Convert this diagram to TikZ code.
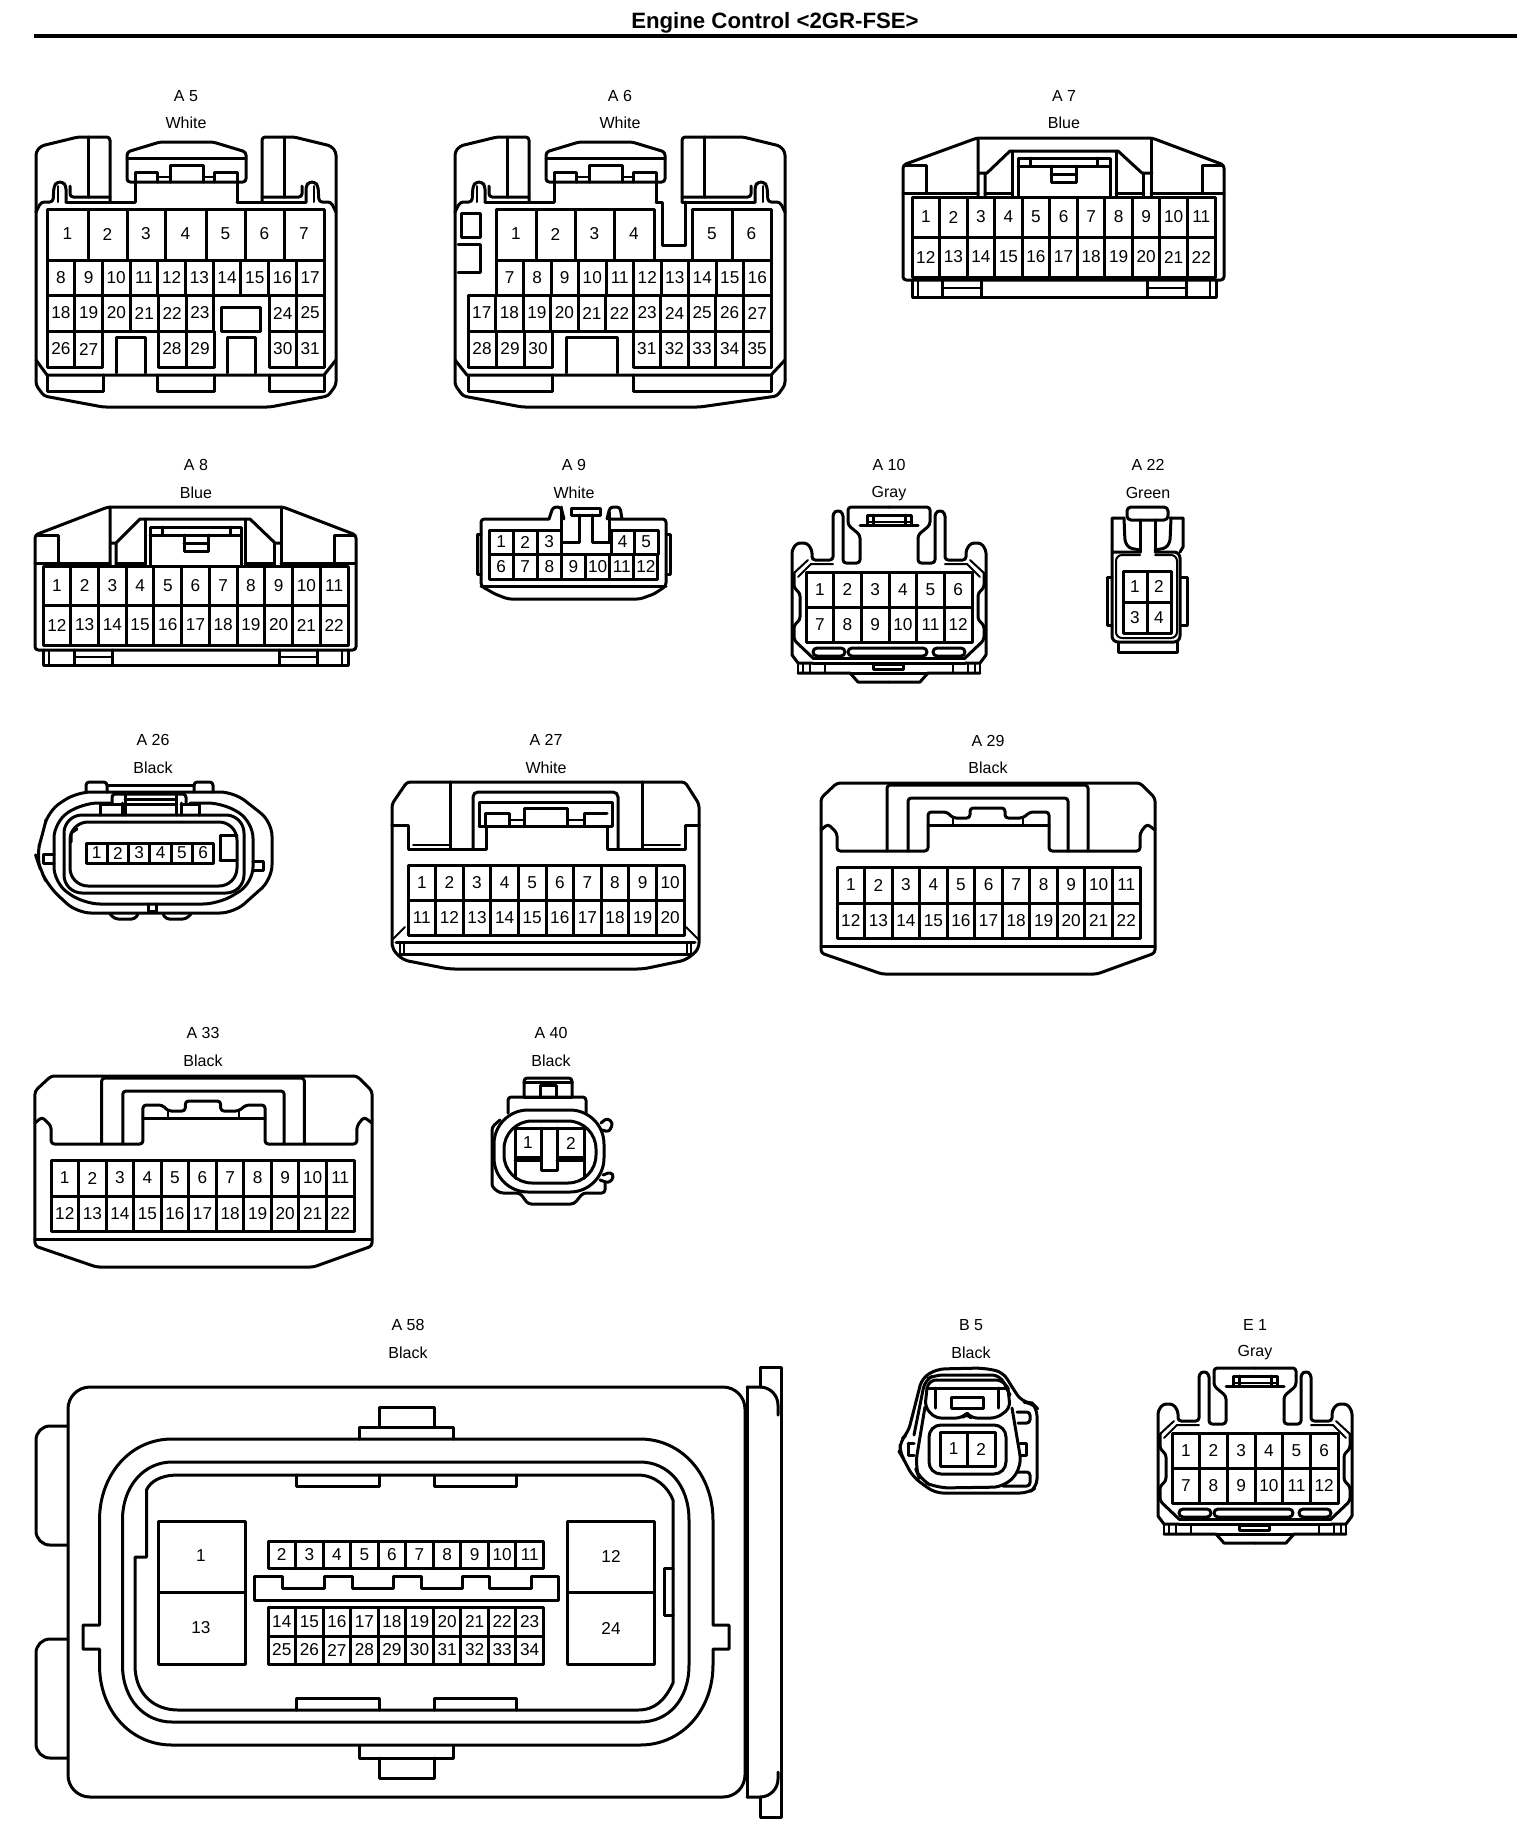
\documentclass[tikz,border=0pt]{standalone}
\usepackage{fontspec}
\setmainfont{Liberation Sans}
\tikzset{
  ln/.style={line width=1.5pt,line join=round,line cap=round},
  thn/.style={line width=1pt,line join=round,line cap=round},
  rc/.style={rounded corners=1.6pt},
  rcb/.style={rounded corners=4pt},
  pin/.style={font=\fontsize{8.6}{10}\selectfont,inner sep=0pt},
  lab/.style={font=\fontsize{8}{10}\selectfont,inner sep=0pt},
}
% row of numbered cells: x0, dx, y0, y1, first, last
\newcommand{\pinrow}[6]{%
  \foreach \n [evaluate=\n as \ca using {#1+(\n-#5)*#2},evaluate=\n as \cb using {#1+(\n-#5+1)*#2}] in {#5,...,#6}{%
    \draw[ln] (\ca,#3) rectangle (\cb,#4);
    \node[pin] (p\n) at ({(\ca+\cb)/2},{(#3+#4)/2}) {\n};
  }}
% white connector: side part (tab x, inner x)
\newcommand{\sidepart}[2]{%
  \draw[ln,rc] (36,212)--(36,152)--(41,146)--(78,137)--(#1,137)--(#1,202);
  \draw[ln] (#2,137)--(#2,197);
  \draw[ln,rc] (36,212)--(41,202)--(53,202)--(54,186)--(57,182)--(63,182)--(66,186)--(66,202);
  \draw[thn] (58,186)--(58,202);
  \draw[ln,rc] (70,186)--(70,197)--(#1,197);
  \draw[ln] (66,202)--(#1,202);
}
\newcommand{\wlatch}{%
  \draw[ln,rc] (127,182)--(127,152)--(160,142)--(213,142)--(246,152)--(246,182)--cycle;
  \draw[ln] (127,158)--(246,158);
  \draw[ln] (135,182)--(135,172)--(157,172)--(157,182);
  \draw[ln] (170,182)--(170,165)--(203,165)--(203,182);
  \draw[ln] (214,182)--(214,172)--(237,172)--(237,182);
  \draw[thn] (157,177)--(170,177) (203,177)--(214,177);
  \draw[ln] (135,182)--(135,202) (237,182)--(237,202);
  \draw[ln] (110,202)--(135,202);
}
% black connector A29 / A33
\newcommand{\blackconn}{%
  \draw[ln,rc] (821,828)--(821,798)--(837,783)--(1140,783)--(1155,798)--(1155,828);
  \draw[ln,rc] (821,828)--(821,953)--(882,974)--(1097,974)--(1155,953)--(1155,828);
  \draw[ln] (821,946)--(1155,946);
  \draw[ln,rc] (821,830)--(828,824)--(837,833)--(837,851)--(928,851)--(928,812)--(947,812)--(953,818)--(970,818)--(970,808)--(1005,808)--(1005,818)--(1023,818)--(1030,812)--(1049,812)--(1049,851)--(1140,851)--(1140,833)--(1147,824)--(1155,830);
  \draw[ln] (928,825)--(970,825) (970,825)--(1005,825) (1005,825)--(1049,825);
  \draw[thn] (953,818)--(953,825) (1023,818)--(1023,825);
  \draw[ln,rc] (887,851)--(887,785)--(1088,785)--(1088,851);
  \draw[ln,rc] (908,851)--(908,798)--(1068,798)--(1068,851);
}
\newcommand{\blackpins}{%
  \pinrow{837}{27.55}{867}{903}{1}{11}
  \pinrow{837}{27.55}{903}{938}{12}{22}
}
% gray connector A10 / E1
\newcommand{\grayhalf}{%
  \draw[ln,rc] (792,655)--(792,550)--(797,543)--(807,543)--(812,550)--(812,560)--(833,560)--(833,513)--(838,510)--(843,513)--(843,563)--(860,563)--(860,535)--(848,525)--(848,507)--(889,507);
  \draw[ln] (792,655)--(798,663)--(813,663);
  \draw[thn] (794,573)--(808,560) (798,577)--(811,564)--(833,564);
  \draw[ln,rc] (794,573)--(794,588)--(800,593)--(800,620)--(794,625)--(794,640)--(813,658);
  \draw[ln,rounded corners=2pt] (813,648) rectangle (845,656);
  \draw[thn] (798,663)--(798,673) (803,663)--(803,673) (810,663)--(810,673) (825,663)--(825,673);
  \draw[ln] (813,658)--(889,658);
  \draw[ln] (798,673)--(850,673)--(858,682)--(889,682);
  \draw[ln] (813,663)--(889,663);
  \draw[ln] (850,673)--(889,673);
  \draw[ln] (860,525)--(889,525);
  \draw[ln] (867,525)--(867,515)--(889,515);
  \draw[ln] (873,515)--(873,525);
}
\newcommand{\grayconn}{%
  \grayhalf
  \begin{scope}[shift={(1778,0)},xscale=-1]\grayhalf\end{scope}
  \draw[ln,rounded corners=2pt] (848,648) rectangle (927,656);
  \draw[ln] (873,664) rectangle (903,669);
  \draw[thn] (867,522)--(911,522);
  \pinrow{806}{27.67}{572}{607}{1}{6}
  \pinrow{806}{27.67}{607}{642}{7}{12}
}
\begin{document}
\begin{tikzpicture}[x=0.5pt,y=-0.5pt]
\useasboundingbox (0,0) rectangle (1536,1832);
\node[font=\fontsize{11.1}{13}\selectfont\bfseries,inner sep=0pt] (title) at (775,23) {Engine Control <2GR-FSE>};
\coordinate (ruleL) at (34,36); \coordinate (ruleR) at (1517,36);
\draw[line width=2pt] (ruleL)--(ruleR);

% ---------- A5
\begin{scope}[name prefix=a5-]
\node[lab] (t1) at (186,96) {A 5}; \node[lab] (t2) at (186,123) {White};
\sidepart{110}{88}
\begin{scope}[shift={(372,0)},xscale=-1]\sidepart{110}{88}\end{scope}
\wlatch
\draw[ln] (237,202)--(262,202);
\draw[ln,rc] (36,212)--(36,385)--(44,396)--(103,407)--(270,407)--(328,396)--(336,385)--(336,212);
\draw[ln] (36,360)--(47,375)--(324,375)--(336,360);
\foreach \i/\xa/\xb/\ya in {1/47/88/0,2/88/127/0,3/127/165/0,4/165/206/0,5/206/245/0,6/245/284/0,7/284/324/0}{
  \draw[ln] (\xa,209) rectangle (\xb,260);
  \node[pin] (p\i) at ({(\xa+\xb)/2},234) {\i};
}
\pinrow{47}{27.7}{260}{295}{8}{17}
\pinrow{47}{27.8}{295}{331}{18}{23}
\pinrow{269}{27.5}{295}{331}{24}{25}
\pinrow{47}{27.8}{331}{367}{26}{27}
\pinrow{158}{28}{331}{367}{28}{29}
\pinrow{269}{27.5}{331}{367}{30}{31}
\draw[ln] (221,307) rectangle (260,331);
\draw[ln] (116,373)--(116,337)--(145,337)--(145,373);
\draw[ln] (227,373)--(227,337)--(255,337)--(255,373);
\draw[ln] (47,375)--(47,391)--(103,391)--(103,375);
\draw[ln] (157,375)--(157,391)--(214,391)--(214,375);
\draw[ln] (269,375)--(269,391)--(324,391)--(324,375);
\end{scope}

% ---------- A6
\begin{scope}[name prefix=a6-]
\node[lab] (t1) at (620,96) {A 6}; \node[lab] (t2) at (620,123) {White};
\begin{scope}[shift={(419,0)}]\sidepart{110}{88}\wlatch\end{scope}
\begin{scope}[shift={(821,0)},xscale=-1]\sidepart{139}{117}\end{scope}
\draw[ln] (656,202)--(662,202)--(662,245)--(685,245)--(685,202);
\draw[ln,rc] (455,212)--(455,385)--(463,396)--(522,407)--(700,407)--(777,396)--(785,385)--(785,212);
\draw[ln] (455,360)--(467,375)--(771,375)--(785,360);
\foreach \i/\xa/\xb in {1/496/536,2/536/575,3/575/614,4/614/654,5/692/732,6/732/771}{
  \draw[ln] (\xa,209) rectangle (\xb,260);
  \node[pin] (p\i) at ({(\xa+\xb)/2},234) {\i};
}
\pinrow{496}{27.5}{260}{295}{7}{16}
\pinrow{468}{27.55}{295}{331}{17}{27}
\pinrow{468}{28}{331}{367}{28}{30}
\pinrow{633}{27.6}{331}{367}{31}{35}
\draw[ln] (461,213) rectangle (480,237);
\draw[ln] (458,244)--(480,244)--(480,272)--(458,272);
\draw[ln] (566,373)--(566,337)--(617,337)--(617,373);
\draw[ln] (468,375)--(468,391)--(552,391)--(552,375);
\draw[ln] (633,375)--(633,391)--(771,391)--(771,375);
\end{scope}

% ---------- A7
\begin{scope}[name prefix=a7-]
\node[lab] (t1) at (1064,96) {A 7}; \node[lab] (t2) at (1064,123) {Blue};
\draw[ln,rc] (903,165)--(977,138)--(1152,138)--(1224,165)--(1224,280)--(903,280)--cycle;
\draw[ln] (905,165)--(926,165)--(926,193) (1202,193)--(1202,165)--(1222,165);
\draw[ln] (903,193)--(978,193) (1151,193)--(1224,193);
\draw[ln] (978,140)--(978,197) (985,173)--(985,197) (978,173)--(987,173)--(1010,151)--(1118,151)--(1142,173)--(1152,173);
\draw[ln] (1143,173)--(1143,197) (1151,140)--(1151,197);
\draw[ln] (1012,151)--(1012,197) (1116,151)--(1116,197);
\draw[ln] (1018,197)--(1018,158)--(1110,158)--(1110,197);
\draw[ln] (1018,166)--(1110,166) (1030,158)--(1030,166) (1097,158)--(1097,166);
\draw[ln] (1051,166)--(1051,182)--(1076,182)--(1076,166) (1051,174)--(1076,174);
\draw[ln] (985,193)--(1012,193) (1116,193)--(1143,193);
\draw[ln] (912,280)--(912,297)--(1216,297)--(1216,280);
\draw[thn] (918,280)--(918,297) (1210,280)--(1210,297);
\draw[ln] (942,280)--(942,297) (981,280)--(981,297) (1147,280)--(1147,297) (1186,280)--(1186,297);
\draw[thn] (942,288)--(981,288) (1147,288)--(1186,288);
\pinrow{912}{27.55}{197}{237}{1}{11}
\pinrow{912}{27.55}{237}{277}{12}{22}
\end{scope}

% ---------- A8
\begin{scope}[name prefix=a8-]
\node[lab] (t1) at (196,465) {A 8}; \node[lab] (t2) at (196,493) {Blue};
\draw[ln,rc] (35,535)--(108,507)--(283,507)--(356,535)--(356,650)--(35,650)--cycle;
\draw[ln] (37,535)--(58,535)--(58,563) (334,563)--(334,535)--(354,535);
\draw[ln] (35,563)--(110,563) (281,563)--(356,563);
\draw[ln] (110,507)--(110,566) (116,543)--(116,566) (110,543)--(116,543)--(140,519)--(250,519)--(275,543)--(281,543);
\draw[ln] (274,543)--(274,566) (281,507)--(281,566);
\draw[ln] (145,519)--(145,566) (245,519)--(245,566);
\draw[ln] (150,566)--(150,527)--(241,527)--(241,566);
\draw[ln] (150,535)--(241,535) (162,527)--(162,535) (230,527)--(230,535);
\draw[ln] (184,535)--(184,551)--(208,551)--(208,535) (184,543)--(208,543);
\draw[ln] (116,563)--(145,563) (245,563)--(274,563);
\draw[ln] (43,650)--(43,665)--(348,665)--(348,650);
\draw[thn] (49,650)--(49,665) (342,650)--(342,665);
\draw[ln] (74,650)--(74,665) (112,650)--(112,665) (279,650)--(279,665) (317,650)--(317,665);
\draw[thn] (74,657)--(112,657) (279,657)--(317,657);
\pinrow{43}{27.73}{566}{605}{1}{11}
\pinrow{43}{27.73}{605}{645}{12}{22}
\end{scope}

% ---------- A9
\begin{scope}[name prefix=a9-]
\node[lab] (t1) at (574,465) {A 9}; \node[lab] (t2) at (574,493) {White};
\draw[ln,rc] (549,519)--(481,519)--(481,586)--(495,594)--(508,599)--(640,599)--(654,594)--(666,586)--(666,519)--(609,519);
\draw[ln] (481,586)--(666,586);
\draw[ln] (481,534)--(477,534)--(477,574)--(481,574) (666,534)--(670,534)--(670,574)--(666,574);
\draw[ln,rc] (549,519)--(553,507)--(561,507)--(564,519);
\draw[ln,rc] (607,519)--(610,507)--(620,507)--(622,519);
\draw[ln] (571,508) rectangle (600,515);
\draw[ln] (561,507)--(561,542)--(579,542)--(579,515);
\draw[ln] (592,515)--(592,542)--(609,542)--(609,512);
\pinrow{489}{24.1}{530}{554}{1}{3}
\pinrow{611}{23.5}{530}{554}{4}{5}
\pinrow{489}{24.14}{554}{579}{6}{12}
\end{scope}

% ---------- A10, E1
\begin{scope}[name prefix=a10-]
\node[lab] (t1) at (889,465) {A 10}; \node[lab] (t2) at (889,494) {Gray};
\grayconn
\end{scope}
\begin{scope}[name prefix=e1-]
\node[lab] (t1) at (1255,1325) {E 1}; \node[lab] (t2) at (1255,1353) {Gray};
\begin{scope}[shift={(366,861)}]\grayconn\end{scope}
\end{scope}

% ---------- A22
\begin{scope}[name prefix=a22-]
\node[lab] (t1) at (1148,465) {A 22}; \node[lab] (t2) at (1148,493) {Green};
\draw[ln,rounded corners=2pt] (1127,507) rectangle (1168,520);
\draw[ln] (1140,520)--(1140,552) (1155,520)--(1155,552);
\draw[ln] (1124,518)--(1112,518)--(1112,552) (1170,518)--(1183,518)--(1183,547)--(1180,552);
\draw[ln,rc] (1124,518)--(1125,542)--(1129,548)--(1140,550);
\draw[ln,rc] (1171,518)--(1170,542)--(1166,548)--(1155,550);
\draw[ln,rounded corners=3pt] (1112,552)--(1140,552) (1155,552)--(1180,552)--(1180,642)--(1112,642)--(1112,552);
\draw[thn,rounded corners=3pt] (1140,555)--(1116,555)--(1116,638)--(1177,638)--(1177,555)--(1155,555);
\draw[ln] (1112,577)--(1107,577)--(1107,625)--(1112,625) (1180,577)--(1187,577)--(1187,625)--(1180,625);
\draw[ln] (1118,642)--(1118,652)--(1177,652)--(1177,642);
\pinrow{1123}{24}{571}{602}{1}{2}
\pinrow{1123}{24}{602}{633}{3}{4}
\end{scope}

% ---------- A26
\begin{scope}[name prefix=a26-]
\node[lab] (t1) at (153,740) {A 26}; \node[lab] (t2) at (153,768) {Black};
\draw[ln,rounded corners=7pt] (272,822)--(272,879)--(234,913)--(77,913)--(48,886)--(40,868)--(36,856)--(43,833)--(48,811)--(77,792)--(234,792)--cycle;
\draw[ln,rounded corners=8pt] (112,803)--(82,803)--(54,822)--(54,883)--(84,904)--(219,904)--(253,883)--(253,822)--(224,803)--(190,803);
\draw[ln,rounded corners=9pt] (64,815) rectangle (244,893);
\draw[ln,rounded corners=9pt] (70,822) rectangle (237,886);
\draw[ln,rc] (86,792)--(86,782)--(107,782)--(107,792) (194,792)--(194,782)--(213,782)--(213,792);
\draw[ln] (107,785)--(194,785);
\draw[ln,rc] (112,803)--(112,794)--(186,794)--(186,803);
\draw[ln] (122,803)--(122,815) (125,794)--(125,815) (176,794)--(176,815) (181,803)--(181,815);
\draw[ln] (125,799)--(176,799) (125,804)--(176,804);
\draw[ln] (100,815)--(100,804)--(122,804) (181,804)--(199,804)--(199,815);
\draw[ln] (220,860)--(220,835)--(237,835) (220,860)--(237,860);
\draw[ln] (77,829)--(71,833) (71,833)--(71,842);
\draw[ln] (54,854)--(43,854)--(43,863)--(54,863);
\draw[ln] (253,861)--(263,861)--(263,870)--(253,870);
\draw[ln] (148,904)--(148,911)--(156,911)--(156,904);
\draw[ln,rc] (110,914)--(115,919)--(135,919)--(138,914) (163,914)--(166,919)--(186,919)--(191,914);
\pinrow{86}{21.3}{843}{863}{1}{6}
\end{scope}

% ---------- A27
\begin{scope}[name prefix=a27-]
\node[lab] (t1) at (546,740) {A 27}; \node[lab] (t2) at (546,768) {White};
\draw[ln,rc] (392,825)--(392,804)--(407,782)--(685,782)--(699,804)--(699,825);
\draw[ln,rounded corners=3pt] (392,825)--(392,949)--(403,960)--(449,969)--(643,969)--(686,960)--(699,949)--(699,825);
\draw[ln] (392,825)--(408,825)--(408,849)--(486,849)--(486,826)--(607,826)--(607,849)--(685,849)--(685,825)--(699,825);
\draw[ln] (450,782)--(450,849) (642,782)--(642,849);
\draw[ln,rounded corners=2.5pt] (473,849)--(473,792)--(618,792)--(618,849);
\draw[ln] (479,826)--(479,802)--(612,802)--(612,826);
\draw[ln] (479,826)--(486,826) (607,826)--(612,826);
\draw[ln] (485,826)--(485,813)--(509,813)--(509,826);
\draw[ln] (524,826)--(524,808)--(567,808)--(567,826);
\draw[ln] (584,826)--(584,813)--(607,813);
\draw[thn] (509,820)--(524,820) (567,820)--(584,820) (413,845)--(449,845) (643,845)--(680,845);
\draw[ln] (396,942)--(695,942) (400,954)--(691,954);
\draw[thn] (400,942)--(400,954) (404,942)--(404,954) (687,942)--(687,954) (691,942)--(691,954);
\draw[thn] (392,940)--(405,927) (699,940)--(686,927);
\pinrow{408}{27.6}{865}{900}{1}{10}
\pinrow{408}{27.6}{900}{935}{11}{20}
\end{scope}

% ---------- A29, A33
\begin{scope}[name prefix=a29-]
\node[lab] (t1) at (988,741) {A 29}; \node[lab] (t2) at (988,768) {Black};
\blackconn
\blackpins
\end{scope}
\begin{scope}[name prefix=a33-]
\node[lab] (t1) at (203,1033) {A 33}; \node[lab] (t2) at (203,1061) {Black};
\begin{scope}[shift={(-793.4,293)},xscale=1.009]\blackconn\end{scope}
\begin{scope}[shift={(-786,293)}]\blackpins\end{scope}
\end{scope}

% ---------- A40
\begin{scope}[name prefix=a40-]
\node[lab] (t1) at (551,1033) {A 40}; \node[lab] (t2) at (551,1061) {Black};
\draw[ln,rc] (524,1097)--(524,1078)--(572,1078)--(572,1097);
\draw[ln] (524,1082)--(572,1082);
\draw[ln] (540,1097)--(540,1085)--(556,1085)--(556,1097) (524,1097)--(572,1097);
\draw[ln,rc] (508,1113)--(508,1097)--(586,1097)--(586,1113);
\draw[ln,rounded corners=17pt] (494,1110) rectangle (604,1192);
\draw[ln,rounded corners=14pt] (504,1121) rectangle (596,1183);
\draw[ln,rc] (500,1120)--(492,1127)--(492,1187)--(500,1193)--(520,1193)--(528,1204)--(574,1204)--(583,1193)--(605,1193)--(605,1183);
\draw[ln,rc] (601,1123)--(607,1118)--(613,1123)--(609,1132)--(602,1130);
\draw[ln,rc] (603,1175)--(611,1172)--(614,1177)--(609,1183)--(600,1180);
\draw[ln] (515,1128) rectangle (541,1157);
\draw[ln] (557,1128) rectangle (584,1157);
\draw[ln] (541,1128)--(557,1128);
\draw[ln] (541,1128)--(541,1170)--(557,1170)--(557,1128);
\draw[ln] (515,1160)--(541,1160) (557,1160)--(584,1160);
\draw[ln] (515,1157)--(515,1178) (584,1157)--(584,1178);
\node[pin] (n1) at (528,1143) {1}; \node[pin] (n2) at (571,1143) {2};
\end{scope}

% ---------- A58
\begin{scope}[name prefix=a58-]
\node[lab] (t1) at (408,1325) {A 58}; \node[lab] (t2) at (408,1353) {Black};
\draw[ln,rounded corners=11pt] (68,1387) rectangle (745,1797);
\draw[ln,rounded corners=7pt] (68,1426)--(36,1426)--(36,1545)--(68,1545);
\draw[ln,rounded corners=7pt] (68,1639)--(36,1639)--(36,1758)--(68,1758);
\draw[ln] (747,1387)--(747,1797);
\draw[ln,rounded corners=9pt] (747,1387)--(778,1387)--(778,1415);
\draw[ln,rounded corners=9pt] (747,1797)--(778,1797)--(778,1772);
\draw[ln] (760,1387)--(760,1367)--(781,1367)--(781,1817)--(760,1817)--(760,1797);
\draw[ln] (379,1427)--(379,1407)--(434,1407)--(434,1427) (359,1439)--(359,1427)--(453,1427)--(453,1439);
\draw[ln] (359,1746)--(359,1758)--(453,1758)--(453,1746) (379,1758)--(379,1778)--(434,1778)--(434,1758);
\draw[ln] (99.5,1625) -- (99.5,1520) .. controls (99.5,1475) and (130,1439) .. (172,1439) -- (640,1439) .. controls (682,1439) and (713,1475) .. (713,1520) -- (713,1625)--(729,1625)--(729,1649)--(713,1649)--(713,1665) .. controls (713,1710) and (682,1745) .. (640,1745) -- (172,1745) .. controls (130,1745) and (99.5,1710) .. (99.5,1665) -- (99.5,1649)--(83,1649)--(83,1625)--cycle;
\draw[ln] (122.5,1520) .. controls (122.5,1485) and (145,1462) .. (172,1462) -- (640,1462) .. controls (668,1462) and (689,1485) .. (689,1520) -- (689,1665) .. controls (689,1700) and (668,1722) .. (640,1722) -- (172,1722) .. controls (145,1722) and (122.5,1700) .. (122.5,1665) -- cycle;
\draw[ln] (146.5,1557)--(146.5,1490) .. controls (150,1482) and (160,1475) .. (178,1475) -- (638,1475) .. controls (655,1475) and (668,1487) .. (673,1500) -- (673,1683) .. controls (665,1700) and (655,1710) .. (638,1710) -- (178,1710) .. controls (155,1710) and (135,1695) .. (135,1665) -- (135,1557) -- cycle;
\draw[ln] (296,1475)--(296,1486)--(379,1486)--(379,1475) (434,1475)--(434,1486)--(516,1486)--(516,1475);
\draw[ln] (296,1710)--(296,1698)--(379,1698)--(379,1710) (434,1710)--(434,1698)--(516,1698)--(516,1710);
\draw[ln] (158,1521) rectangle (245,1592); \node[pin] (p1) at (201,1556) {1};
\draw[ln] (158,1592) rectangle (245,1664); \node[pin] (p13) at (201,1628) {13};
\draw[ln] (567,1521) rectangle (654,1592); \node[pin] (p12) at (611,1556) {12};
\draw[ln] (567,1592) rectangle (654,1664); \node[pin] (p24) at (611,1628) {24};
\pinrow{268}{27.55}{1541}{1568}{2}{11}
\pinrow{268}{27.55}{1607}{1636}{14}{23}
\pinrow{268}{27.55}{1636}{1664}{25}{34}
\draw[ln] (254,1576.5)--(282,1576.5)--(282,1588.5)--(324,1588.5)--(324,1576.5)--(352,1576.5)--(352,1588.5)--(393,1588.5)--(393,1576.5)--(421,1576.5)--(421,1588.5)--(462,1588.5)--(462,1576.5)--(489,1576.5)--(489,1588.5)--(531,1588.5)--(531,1576.5)--(558,1576.5)--(558,1600)--(254,1600)--cycle;
\draw[ln] (673,1568)--(664,1568)--(664,1615)--(673,1615);
\end{scope}

% ---------- B5
\begin{scope}[name prefix=b5-]
\node[lab] (t1) at (971,1325) {B 5}; \node[lab] (t2) at (971,1353) {Black};
\draw[ln,rounded corners=4pt] (900,1453)--(903,1458)--(913,1477)--(935,1493)--(1028,1493)--(1037,1487)--(1037,1408)--(1032,1403)--(1022,1402)--(1012,1387)--(1003,1372)--(983,1368)--(937,1369)--(922,1378)--(908,1433)--(900,1441)--cycle;
\draw[ln,rounded corners=4pt] (914,1435)--(925,1380)--(935,1375)--(1000,1375)--(1010,1395);
\draw[ln,rounded corners=3pt] (927,1388)--(930,1380)--(1002,1380)--(1008,1388);
\draw[ln] (927,1388)--(1008,1388);
\draw[ln,rounded corners=3pt] (927,1388)--(925,1407)--(935,1418)--(962,1418)--(967,1413)--(971,1418)--(997,1418)--(1010,1408)--(1008,1388);
\draw[ln] (935,1388)--(935,1408) (998,1388)--(998,1408);
\draw[ln] (951,1397) rectangle (983,1408);
\draw[ln,rounded corners=6pt] (925,1407)--(915,1467)--(920,1480)--(937,1488)--(1005,1487)--(1022,1467)--(1012,1408);
\draw[ln,rounded corners=6pt] (929,1425) rectangle (1006,1474);
\draw[ln] (908,1443)--(914,1443) (908,1443)--(908,1455)--(914,1455);
\draw[ln] (1020,1443)--(1026,1443)--(1026,1455)--(1020,1455);
\draw[ln,rc] (1017,1412)--(1030,1412)--(1030,1423)--(1018,1423);
\draw[ln,rc] (1017,1472)--(1030,1472)--(1030,1486)--(1003,1486);
\pinrow{940}{27.5}{1432}{1466}{1}{2}
\end{scope}
\end{tikzpicture}
\end{document}
